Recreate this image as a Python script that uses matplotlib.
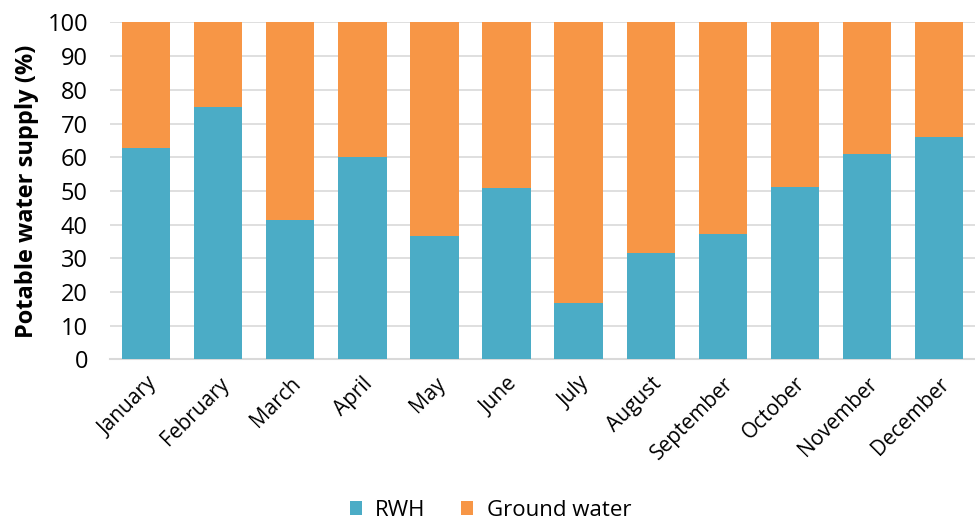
import numpy as np
import matplotlib
matplotlib.use("Agg")
import matplotlib.pyplot as plt

months = ["January", "February", "March", "April", "May", "June", "July",
          "August", "September", "October", "November", "December"]
rwh = [62.8, 74.9, 41.4, 60.0, 36.5, 51.0, 16.7, 31.5, 37.3, 51.3, 61.0, 65.9]
ground = [100 - v for v in rwh]

plt.rcParams['font.family'] = ['Open Sans', 'DejaVu Sans']

fig = plt.figure(figsize=(9.75, 5.23), dpi=100)
ax = fig.add_axes([0.113, 0.313, 0.887, 0.644])

x = np.arange(len(months))
ax.bar(x, rwh, width=0.67, color="#4BACC6", label="RWH", zorder=3)
ax.bar(x, ground, width=0.67, bottom=rwh, color="#F79646", label="Ground water", zorder=3)

ax.set_xlim(-0.5, 11.5)
ax.set_ylim(0, 100)
ax.set_yticks(np.arange(0, 101, 10))
ax.yaxis.grid(True, color="#D9D9D9", linewidth=1.2, zorder=0)
ax.set_axisbelow(True)
for s in ["top", "right", "left"]:
    ax.spines[s].set_visible(False)
ax.spines["bottom"].set_color("#D9D9D9")
ax.spines["bottom"].set_linewidth(1.5)
ax.tick_params(axis="both", length=0, colors="black")
ax.tick_params(axis="y", pad=16, labelsize=17)
ax.set_xticks(x)
ax.set_xticklabels(months, rotation=45, ha="right", rotation_mode="anchor")
ax.tick_params(axis="x", pad=10, labelsize=15)
ax.set_ylabel("Potable water supply (%)", fontsize=17, fontweight="bold", labelpad=6)

fig.legend(*ax.get_legend_handles_labels(), loc="center", bbox_to_anchor=(0.503, 0.024),
           ncol=2, frameon=False, fontsize=16, handlelength=0.55, handleheight=0.55,
           columnspacing=1.6, handletextpad=0.6)

fig.savefig("out.png", dpi=100)
